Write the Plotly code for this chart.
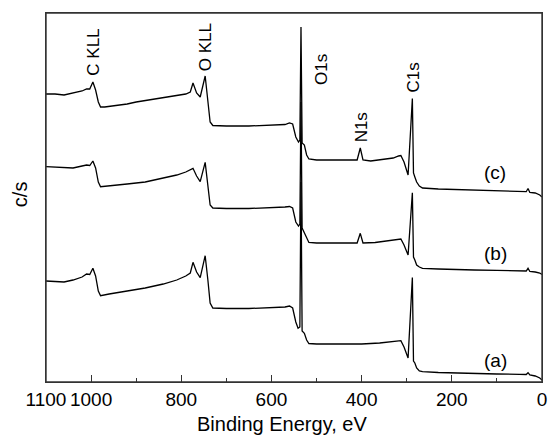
import plotly.graph_objects as go

# Binding energy (eV) sample points and intensities (arbitrary c/s units)
energy_c = [1100, 1080, 1060, 1040, 1020, 1010, 1003, 996, 990, 984, 979, 970, 950, 920, 900, 870, 840, 810, 790,
            780, 774, 766, 758, 747, 741, 736, 730, 700, 650, 600, 570, 560, 553, 546, 540, 537, 534.5, 532, 527,
            522, 517, 500, 450, 410, 403, 397, 380, 350, 330, 318, 313, 306, 300, 297, 287.5, 285, 282, 278, 272,
            265, 230, 200, 150, 100, 50, 35, 31, 27, 15, 5, 0]
counts_c = [288, 288, 287, 289, 291, 293, 293, 300, 292, 280, 275, 275, 276, 278, 280, 282, 284, 286, 288,
            290, 299, 289, 285, 306, 282, 260, 256.5, 256, 256, 256.5, 257.5, 259, 258, 245, 240, 242, 355, 239, 237,
            227, 223, 222, 222, 222, 234, 222, 221, 222.5, 224, 226, 226.5, 220, 211, 207, 283.5, 209, 205, 200, 196,
            194, 193, 192.5, 192, 191.5, 190.5, 190.3, 193.5, 189.5, 189, 187, 185]

energy_b = [1100, 1080, 1060, 1040, 1020, 1010, 1003, 996, 990, 984, 979, 960, 920, 880, 840, 810, 790,
            780, 774, 766, 758, 747, 741, 736, 730, 700, 650, 600, 570, 560, 553, 546, 540, 537, 534.5, 532, 526,
            521, 517, 500, 450, 410, 403, 397, 370, 340, 318, 313, 306, 300, 297, 287.5, 285, 282, 278, 272,
            265, 230, 200, 150, 100, 50, 35, 31, 27, 15, 5, 0]
counts_b = [215.3, 215, 214, 214, 216, 217, 216.5, 221, 214, 200, 195.3, 196, 198, 200, 204, 207, 210,
            212, 213.7, 206, 200.3, 219.7, 197, 177, 174, 173.5, 173.5, 174, 175, 175.5, 174, 160, 156, 158, 280, 154, 148,
            142, 139.5, 139, 139, 139, 148.7, 139, 139.5, 141, 142.5, 143, 137, 130, 127, 189.3, 125, 122, 117, 115,
            113.7, 113, 112.5, 112, 111.7, 111.3, 111, 113.7, 110.5, 110, 109, 107.5]

energy_a = [1100, 1080, 1060, 1040, 1020, 1010, 1003, 996, 990, 984, 979, 960, 920, 880, 840, 810, 790,
            780, 774, 766, 758, 747, 741, 736, 730, 700, 650, 600, 570, 560, 553, 546, 541, 537, 534.5, 532, 527,
            522, 517, 500, 450, 400, 360, 330, 318, 313, 306, 300, 297, 287.5, 285, 282, 278, 272,
            265, 230, 200, 150, 100, 50, 35, 31, 27, 15, 5, 0]
counts_a = [101, 100.5, 100, 102, 105, 108, 107.5, 113.7, 106, 91, 86.3, 88, 91, 94, 98, 102, 106,
            109, 119.7, 110, 104.3, 126.3, 102, 79, 74, 73.5, 73.5, 74, 75, 76, 74, 60, 53.7, 55, 200, 51, 48.7,
            42, 38.5, 38, 38, 38, 39, 40, 41, 41.3, 35, 27, 24, 104.5, 21, 19, 14, 11,
            10.3, 9.5, 9, 8.5, 8, 7.7, 7.5, 9.3, 7, 6, 4, 2]

tick_vals = [1100, 1000, 800, 600, 400, 200, 0]
tick_text = ["1100", "1000", "800", "600", "400", "200", "0"]
minor_tick_vals = [900, 700, 500, 300, 100]

peak_labels = ["C KLL", "O KLL", "O1s", "N1s", "C1s"]
peak_x = [996.5, 747, 490, 399.5, 285]
peak_y = [330, 335, 312, 254.5, 305]

curve_labels = ["(c)", "(b)", "(a)"]
curve_label_x = [104, 104, 104]
curve_label_y = [210, 129, 22]

FONT = "Arial, Liberation Sans, sans-serif"

fig = go.Figure()
for ex, cy in [(energy_a, counts_a), (energy_b, counts_b), (energy_c, counts_c)]:
    fig.add_trace(go.Scatter(x=ex, y=cy, mode="lines",
                             line=dict(color="#000000", width=1.3),
                             showlegend=False, hoverinfo="skip"))

annotations = []
for t, x, y in zip(peak_labels, peak_x, peak_y):
    annotations.append(dict(text=t, x=x, y=y, xref="x", yref="y", showarrow=False,
                            textangle=-90, font=dict(family=FONT, size=17, color="#000000"),
                            xanchor="center", yanchor="middle"))
for t, x, y in zip(curve_labels, curve_label_x, curve_label_y):
    annotations.append(dict(text=t, x=x, y=y, xref="x", yref="y", showarrow=False,
                            font=dict(family=FONT, size=19, color="#000000"),
                            xanchor="center", yanchor="middle"))
annotations.append(dict(text="Binding Energy, eV", x=0.476, y=-0.113, xref="paper", yref="paper",
                        showarrow=False, font=dict(family=FONT, size=20, color="#000000"),
                        xanchor="center", yanchor="middle"))
annotations.append(dict(text="c/s", x=-0.0525, y=0.509, xref="paper", yref="paper",
                        showarrow=False, textangle=-90, font=dict(family=FONT, size=20, color="#000000"),
                        xanchor="center", yanchor="middle"))

fig.update_layout(
    width=548, height=437,
    margin=dict(l=46, r=6, t=13, b=55, autoexpand=False),
    paper_bgcolor="white", plot_bgcolor="white",
    annotations=annotations,
    shapes=[dict(type="rect", xref="paper", yref="paper", x0=0, x1=1, y0=0, y1=1,
                 line=dict(color="#333333", width=1.4), fillcolor="rgba(0,0,0,0)", layer="above")],
    xaxis=dict(range=[1100, 0], tickvals=tick_vals, ticktext=tick_text,
               ticks="inside", ticklen=7, tickwidth=1.2, tickcolor="#333333",
               minor=dict(tickvals=minor_tick_vals, ticks="inside", ticklen=4,
                          tickwidth=1.2, tickcolor="#333333"),
               showline=True, linecolor="#333333", linewidth=1.4, mirror=True,
               showgrid=False, zeroline=False, automargin=False,
               tickfont=dict(family=FONT, size=19, color="#000000")),
    yaxis=dict(range=[0, 369], showticklabels=False, ticks="",
               showline=True, linecolor="#333333", linewidth=1.4, mirror=True,
               showgrid=False, zeroline=False, automargin=False),
)

fig.write_html("out.html", config={"displayModeBar": False},
               post_script="document.body.style.margin='0';document.body.style.padding='0';")
